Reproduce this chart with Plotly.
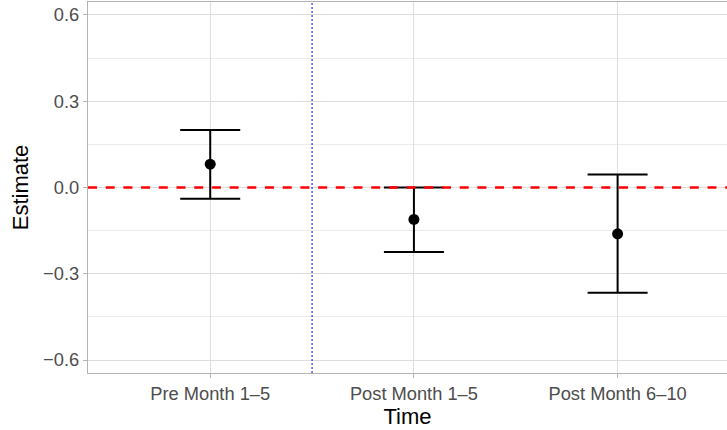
import plotly.graph_objects as go

categories = ["Pre Month 1–5", "Post Month 1–5", "Post Month 6–10"]
estimates = [0.081, -0.111, -0.161]
lower = [-0.039, -0.224, -0.366]
upper = [0.200, 0.0, 0.045]
y_ticks = [-0.6, -0.3, 0.0, 0.3, 0.6]
y_tick_labels = ["−0.6", "−0.3", "0.0", "0.3", "0.6"]

err_plus = [u - e for u, e in zip(upper, estimates)]
err_minus = [e - l for e, l in zip(estimates, lower)]

font_family = "Liberation Sans, Arial, sans-serif"

fig = go.Figure()
fig.add_trace(go.Scatter(
    x=categories, y=estimates, mode="markers",
    marker=dict(color="black", size=11),
    error_y=dict(type="data", symmetric=False, array=err_plus, arrayminus=err_minus,
                 color="black", thickness=2, width=30),
    showlegend=False, cliponaxis=False,
))

fig.add_shape(type="line", xref="x", yref="paper", x0=0.5, x1=0.5, y0=0, y1=1,
              line=dict(color="#0000FF", width=1, dash="2px,2px"), layer="above")
fig.add_shape(type="line", xref="paper", yref="y", x0=0, x1=1, y0=0, y1=0,
              line=dict(color="#FF0000", width=2.5, dash="9px,8.7px"), layer="above")

fig.update_layout(
    width=727, height=430,
    margin=dict(l=88, r=0, t=2, b=57),
    paper_bgcolor="white", plot_bgcolor="white",
    font=dict(family=font_family),
    xaxis=dict(
        type="category", range=[-0.6, 2.537],
        showgrid=True, gridcolor="#DEDEDE", gridwidth=1,
        showline=True, linecolor="#B3B3B3", linewidth=1.3, mirror=True,
        ticks="outside", ticklen=4, tickcolor="#B3B3B3", tickwidth=1,
        tickfont=dict(size=18.3, color="#4D4D4D"),
        title=dict(text="Time", font=dict(size=22, color="black"), standoff=3),
        zeroline=False,
    ),
    yaxis=dict(
        range=[-0.645, 0.645],
        tickvals=y_ticks, ticktext=y_tick_labels,
        showgrid=True, gridcolor="#DEDEDE", gridwidth=1,
        minor=dict(dtick=0.15, tick0=0.15, showgrid=True, gridcolor="#EBEBEB", gridwidth=0.7, ticks=""),
        showline=True, linecolor="#B3B3B3", linewidth=1.3,
        ticks="outside", ticklen=4, tickcolor="#B3B3B3", tickwidth=1,
        tickfont=dict(size=18.3, color="#4D4D4D"),
        title=dict(text="Estimate", font=dict(size=22, color="black"), standoff=8),
        zeroline=False,
    ),
)

fig.write_html("out.html",
               config={"displayModeBar": False},
               post_script="document.body.style.margin='0px';document.body.style.overflow='hidden';")
